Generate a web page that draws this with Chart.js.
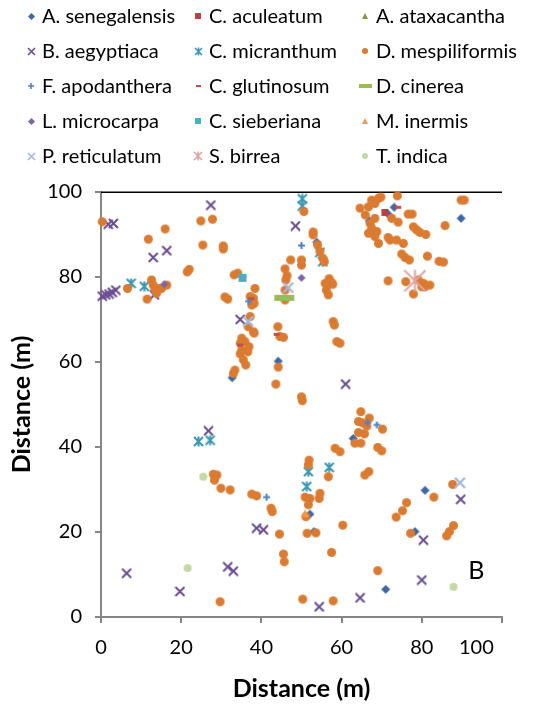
<!DOCTYPE html>
<html><head><meta charset="utf-8">
<script src="https://cdn.jsdelivr.net/npm/chart.js@4.4.1/dist/chart.umd.min.js"></script>
<style>html,body{margin:0;padding:0;background:#fff;}#wrap{position:relative;width:535px;height:709px;}</style>
</head><body><div id="wrap"><canvas id="c" width="535" height="709"></canvas></div>
<script>
// ---------------- DATA ----------------
const xTicks = [0, 20, 40, 60, 80, 100];
const yTicks = [0, 20, 40, 60, 80, 100];
const axisTitle = 'Distance (m)';
const panelLabel = 'B';

const aSenegalensis = [[53.8,88.2],[66.9,93.2],[71.6,94.8],[73.1,96.4],[89.8,93.8],[44.2,60.2],[32.7,56.3],[62.9,42.0],[52.1,24.2],[53.1,20.1],[71.0,6.5],[80.8,29.8],[78.3,20.1]];
const cAculeatum = [[70.8,95.2]];
const aAtaxacantha = [];
const bAegyptiaca = [[1.8,92.4],[3.1,92.6],[27.4,96.9],[16.4,86.2],[13.0,84.6],[0.3,75.5],[1.2,75.8],[2.0,76.0],[2.8,76.4],[3.7,76.9],[13.3,75.8],[48.5,92.0],[34.7,70.0],[61.0,54.8],[26.8,43.8],[38.8,20.9],[40.5,20.5],[6.4,10.3],[31.6,11.8],[33.0,10.8],[19.7,6.0],[54.4,2.4],[64.6,4.5],[80.0,8.7],[80.4,18.1],[89.7,27.7]];
const cMicranthum = [[50.2,98.4],[50.2,96.7],[54.6,85.8],[55.3,83.6],[7.5,78.5],[10.8,77.8],[24.3,41.3],[27.2,41.6],[51.7,34.2],[56.9,35.2],[51.3,30.7]];
const dMespiliformis = [
 [0.3,93.0],[24.9,93.2],[27.8,93.6],[16.0,91.3],[11.8,88.9],[25.4,87.5],[30.5,87.3],[30.5,86.6],[21.5,81.2],[22.0,81.8],[33.2,80.5],[34.1,80.9],[6.6,77.3],[11.5,74.8],
 [12.6,79.3],[13.0,78.1],[13.5,76.9],[14.3,77.3],[15.1,77.3],[13.9,76.2],[16.4,78.1],
 [38.4,77.3],[31.6,74.8],[30.9,75.3],[37.2,75.4],[38.0,75.0],[37.6,73.4],[38.2,73.8],[45.9,76.9],[45.9,74.6],
 [50.6,95.4],[52.9,90.6],[52.9,89.9],[54.0,87.6],[54.6,86.0],[55.3,84.4],[55.7,83.6],[47.3,84.0],[50.0,84.0],[50.0,82.8],[45.9,81.9],[46.4,80.3],[46.1,79.3],
 [56.9,79.6],[57.4,78.8],[56.6,78.2],[57.8,78.3],[55.9,78.5],[56.2,76.9],[56.7,75.8],[64.6,96.2],[65.9,94.6],
 [37.2,70.7],[36.7,68.3],[38.0,67.1],[38.2,66.8],[44.1,68.3],[44.6,66.0],[45.5,65.8],[35.1,65.6],[34.7,64.4],[35.9,64.8],[36.9,63.6],[35.1,62.8],[36.6,62.4],[34.7,61.9],[35.5,60.5],[36.1,59.3],[33.4,58.1],[33.0,57.3],
 [44.2,58.8],[43.6,54.8],[57.9,69.5],[58.2,68.7],[58.8,64.8],[59.6,64.4],[50.0,51.8],[50.2,50.9],
 [64.8,48.3],[66.9,46.8],[64.2,46.0],[65.2,45.7],[66.3,44.9],[70.2,44.2],[64.2,43.4],[65.7,43.1],[63.3,40.9],[64.8,40.9],[69.0,39.9],[70.0,39.1],[58.4,39.7],[59.6,38.9],[65.8,33.4],[66.8,34.2],
 [51.9,36.9],[51.7,35.8],[56.7,33.0],[50.9,28.2],[52.1,27.9],[54.6,29.1],[54.4,27.9],[51.7,26.4],[51.1,23.6],[51.4,19.7],[53.6,19.8],[60.3,21.6],[57.5,15.2],[50.3,4.2],[57.9,3.8],[69.0,10.9],
 [28.0,33.6],[28.9,33.4],[28.3,32.2],[29.9,30.3],[32.2,29.9],[37.6,28.9],[38.8,28.5],[42.4,25.6],[42.7,24.8],[44.5,19.5],[45.5,14.8],[45.7,13.0],[29.7,3.6],
 [73.6,23.5],[75.2,25.0],[76.2,26.9],[83.0,28.2],[77.2,19.7],[86.2,19.1],[86.9,20.1],[87.9,21.5],[87.7,31.2],
 [67.5,98.1],[69.2,98.5],[69.8,98.8],[66.7,96.5],[68.3,97.3],[68.3,93.8],[67.1,92.6],[67.5,91.5],[66.7,90.3],[68.8,90.7],[68.3,89.5],[69.2,87.9],[73.9,99.1],[72.5,93.8],[74.1,92.9],[76.6,94.8],[77.6,94.8],
 [71.6,89.3],[72.1,88.7],[73.7,88.7],[75.4,87.9],[77.9,91.8],[78.7,91.1],[79.5,90.5],[81.0,90.0],[85.8,92.1],[89.8,98.1],[90.6,98.1],[75.0,85.4],[75.8,84.6],[76.9,84.0],[81.4,84.9],[84.3,83.7],[85.4,83.5],
 [71.6,79.1],[76.0,78.9],[79.1,79.3],[80.4,78.5],[82.0,78.1],[80.0,77.7],[77.9,76.0],[80.8,77.7]
];
const fApodanthera = [[50.0,87.4],[36.8,74.3],[66.5,45.7],[68.8,45.2],[41.3,28.2]];
const cGlutinosum = [[74.1,96.4],[37.5,74.9],[43.8,66.5],[34.7,64.0]];
const dCinerea = [[45.7,75.1]];
const lMicrocarpa = [[15.8,78.3],[50.0,79.8]];
const cSieberiana = [[35.3,79.8]];
const mInermis = [[50.9,24.4]];
const pReticulatum = [[46.7,77.5],[36.7,69.5],[89.5,31.6]];
const sBirrea = [[78.3,79.1]];
const tIndica = [[25.5,33.0],[21.6,11.5],[87.9,7.1]];

const seriesNames = ['A. senegalensis','C. aculeatum','A. ataxacantha','B. aegyptiaca','C. micranthum','D. mespiliformis','F. apodanthera','C. glutinosum','D. cinerea','L. microcarpa','C. sieberiana','M. inermis','P. reticulatum','S. birrea','T. indica'];
const seriesData = [aSenegalensis,cAculeatum,aAtaxacantha,bAegyptiaca,cMicranthum,dMespiliformis,fApodanthera,cGlutinosum,dCinerea,lMicrocarpa,cSieberiana,mInermis,pReticulatum,sBirrea,tIndica];

// ---------------- STYLE ----------------
const FONT = 'Lato, "Liberation Sans", sans-serif';
// [type, color, plotW, plotH, plotLW, legW, legH, legLW]
const markerSpec = [
  ['diamond','#3E68A5',9,9,0,7,7,0],
  ['square','#B8433F',7,7,0,6,6,0],
  ['triangle','#7E9C3E',8,8,0,6,6,0],
  ['x','#6A4E91',9,9,2,7,7,1.6],
  ['star','#3B98B2',9,9,2,7,7,1.6],
  ['circle','#DA7B31',9,9,0,6,6,0],
  ['plus','#4F81BD',7,7,2,6,6,1.6],
  ['dash','#C0504D',6,3,0,5,2,0],
  ['dash','#9BBB59',20,6,0,13,4,0],
  ['diamond','#8064A2',8,8,0,7,7,0],
  ['square','#4BACC6',8,8,0,6,6,0],
  ['triangle','#F79646',8,8,0,6,6,0],
  ['x','#A5B8DC',10,10,2.4,7,7,1.6],
  ['star','#DFA3A3',21,21,2,8,8,1.6],
  ['circle','#C4D8A4',8,8,0,6,6,0]
];

function makeMarker(type,color,w,h,lw){
  const pad = 1;
  const c = document.createElement('canvas');
  c.width = w + 2*pad; c.height = h + 2*pad;
  const g = c.getContext('2d');
  g.fillStyle = color; g.strokeStyle = color; g.lineWidth = lw || 2; g.lineCap = 'butt';
  const x0 = pad, y0 = pad, cx = pad + w/2, cy = pad + h/2;
  g.beginPath();
  switch(type){
    case 'diamond': g.moveTo(cx,y0); g.lineTo(x0+w,cy); g.lineTo(cx,y0+h); g.lineTo(x0,cy); g.closePath(); g.fill(); break;
    case 'square': g.fillRect(x0,y0,w,h); break;
    case 'triangle': g.moveTo(cx,y0); g.lineTo(x0+w,y0+h); g.lineTo(x0,y0+h); g.closePath(); g.fill(); break;
    case 'circle': g.arc(cx,cy,w/2,0,Math.PI*2); g.fill(); break;
    case 'dash': g.fillRect(x0,y0,w,h); break;
    case 'plus': g.moveTo(x0,cy); g.lineTo(x0+w,cy); g.moveTo(cx,y0); g.lineTo(cx,y0+h); g.stroke(); break;
    case 'x': g.moveTo(x0,y0); g.lineTo(x0+w,y0+h); g.moveTo(x0+w,y0); g.lineTo(x0,y0+h); g.stroke(); break;
    case 'star': g.moveTo(x0,y0); g.lineTo(x0+w,y0+h); g.moveTo(x0+w,y0); g.lineTo(x0,y0+h); g.moveTo(cx,y0-0.5); g.lineTo(cx,y0+h+0.5); g.stroke(); break;
  }
  return c;
}

const datasets = seriesNames.map((name,i)=>{
  const s = markerSpec[i];
  return {
    label: name,
    data: seriesData[i].map(p=>({x:p[0],y:p[1]})),
    pointStyle: makeMarker(s[0],s[1],s[2],s[3],s[4]),
    legendMarker: makeMarker(s[0],s[1],s[5],s[6],s[7]),
    pointRadius: 5,
    showLine: false,
    clip: false,
    order: 100 - i
  };
});

const legendPos = {colMarkerX:[31,198,365], colTextX:[42,209,376], rowY0:16, rowStep:35};

const decor = {
  id:'decor',
  beforeDatasetsDraw(chart){
    const {ctx, chartArea:a} = chart;
    ctx.save();
    ctx.strokeStyle = '#000'; ctx.lineWidth = 1.5;
    ctx.beginPath(); ctx.moveTo(a.left, a.top+0.25); ctx.lineTo(a.right, a.top+0.25); ctx.stroke();
    ctx.restore();
  },
  afterDraw(chart){
    const ctx = chart.ctx;
    ctx.save();
    chart.data.datasets.forEach((ds,i)=>{
      const col = i%3, row = Math.floor(i/3);
      const mx = legendPos.colMarkerX[col], my = legendPos.rowY0 + legendPos.rowStep*row;
      const m = ds.legendMarker;
      ctx.drawImage(m, Math.round(mx - m.width/2), Math.round(my - m.height/2));
      ctx.font = '20px ' + FONT; ctx.fillStyle = '#000';
      ctx.textBaseline = 'middle'; ctx.textAlign = 'left';
      ctx.fillText(ds.label, legendPos.colTextX[col], my + 1);
    });
    // panel label
    const xs = chart.scales.x, ys = chart.scales.y;
    ctx.font = '25px ' + FONT; ctx.fillStyle = '#000';
    ctx.textAlign = 'center'; ctx.textBaseline = 'middle';
    ctx.fillText(panelLabel, xs.getPixelForValue(93.6), ys.getPixelForValue(10.8));
    ctx.restore();
  }
};

const axisCommon = (ticksArr) => ({
  type:'linear', min: ticksArr[0], max: ticksArr[ticksArr.length-1],
  afterBuildTicks(s){ s.ticks = ticksArr.map(v=>({value:v})); },
  ticks:{ font:{family:FONT,size:20}, color:'#000', maxRotation:0, minRotation:0, autoSkip:false },
  grid:{ drawOnChartArea:false, drawTicks:true, tickLength:6, color:'#868686', lineWidth:2 },
  border:{ color:'#868686', width:2 },
});

const xOpts = axisCommon(xTicks);
xOpts.ticks.padding = 13;
// last label pulled inside the chart, as in the reference
xOpts.ticks.callback = (v) => v === xTicks[xTicks.length-1] ? String(v) + '          ' : String(v);
xOpts.title = {display:true, text:axisTitle, color:'#000', font:{family:FONT,size:25,weight:'bold'}, padding:{top:0,bottom:5}};
xOpts.afterFit = s => { s.height = 92; s.paddingLeft = 0; s.paddingRight = 0; };
const yOpts = axisCommon(yTicks);
yOpts.ticks.padding = 13;
yOpts.title = {display:true, text:axisTitle, color:'#000', font:{family:FONT,size:25,weight:'bold'}, padding:{top:7,bottom:0}};
yOpts.afterFit = s => { s.width = 101; s.paddingTop = 0; s.paddingBottom = 0; };

new Chart(document.getElementById('c'), {
  type:'scatter',
  data:{ datasets },
  options:{
    responsive:false, animation:false, events:[],
    layout:{ padding:{ top:192, right:33, bottom:0, left:0 } },
    plugins:{ legend:{display:false}, tooltip:{enabled:false}, title:{display:false} },
    scales:{ x:xOpts, y:yOpts }
  },
  plugins:[decor]
});
</script>
</body></html>
